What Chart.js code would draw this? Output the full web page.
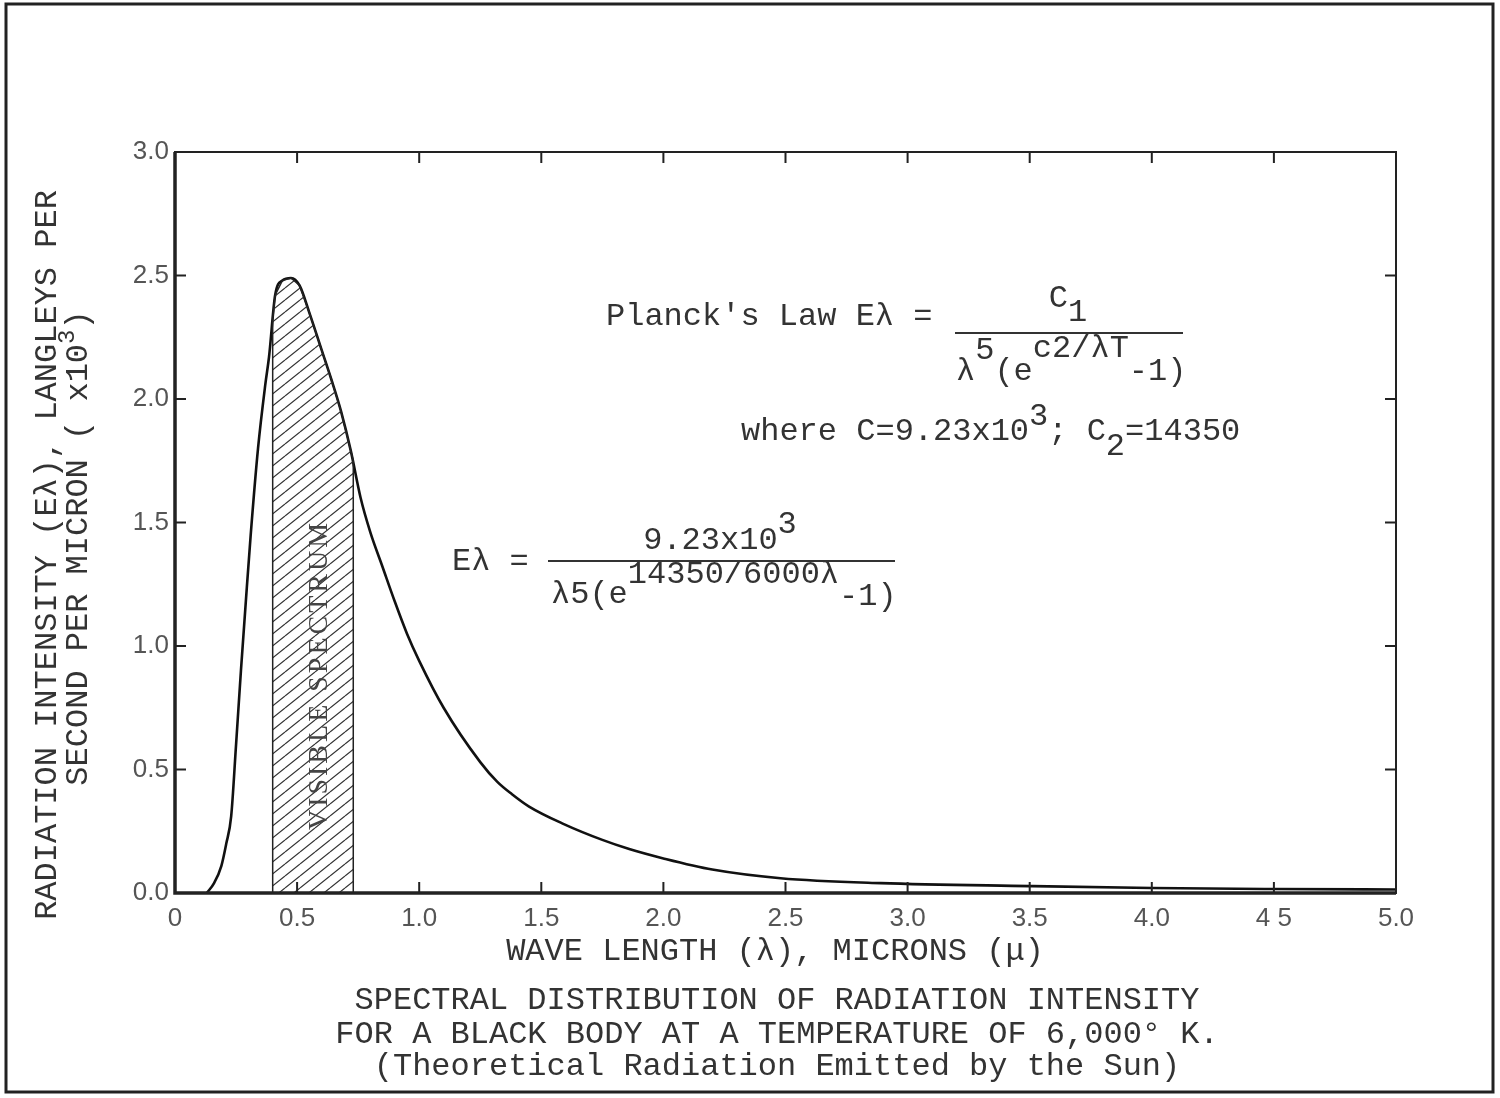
<!DOCTYPE html>
<html>
<head>
<meta charset="utf-8">
<script src="https://cdn.jsdelivr.net/npm/chart.js@4/dist/chart.umd.min.js"></script>
<style>
  html, body { margin: 0; padding: 0; background: #fff; }
  #wrap { width: 1500px; height: 1098px; }
</style>
</head>
<body>
<div id="wrap"><canvas id="spectrumChart" width="1500" height="1098"></canvas></div>
<script>
// Curve (wavelength in microns, intensity x10^3)
const wavelength = [0.13, 0.16, 0.19, 0.21, 0.23, 0.25, 0.27, 0.29, 0.31, 0.34, 0.37, 0.385, 0.41, 0.44, 0.475, 0.51, 0.55, 0.60, 0.64, 0.68, 0.72, 0.76, 0.80, 0.85, 0.90, 0.95, 1.0, 1.1, 1.25, 1.32, 1.38, 1.45, 1.59, 1.75, 1.86, 2.0, 2.2, 2.48, 2.89, 3.5, 4.0, 4.5, 5.0];
const intensity  = [0, 0.04, 0.11, 0.2, 0.31, 0.60, 0.90, 1.18, 1.45, 1.80, 2.06, 2.17, 2.42, 2.48, 2.49, 2.46, 2.35, 2.20, 2.08, 1.95, 1.79, 1.60, 1.46, 1.32, 1.18, 1.05, 0.94, 0.75, 0.53, 0.45, 0.40, 0.35, 0.28, 0.215, 0.178, 0.14, 0.095, 0.06, 0.04, 0.028, 0.02, 0.016, 0.014];

// Hatched visible spectrum band (0.40 - 0.73 microns)
const visibleX = [0.40, 0.40, 0.41, 0.44, 0.475, 0.51, 0.55, 0.60, 0.64, 0.68, 0.72, 0.73, 0.73];
const visibleY = [0, 2.32, 2.42, 2.48, 2.49, 2.46, 2.35, 2.20, 2.08, 1.95, 1.79, 1.75, 0];

const xTickLabels = ['0', '0.5', '1.0', '1.5', '2.0', '2.5', '3.0', '3.5', '4.0', '4 5', '5.0'];
const yTickLabels = ['0.0', '0.5', '1.0', '1.5', '2.0', '2.5', '3.0'];

const MONO = '32px "Liberation Mono", "DejaVu Sans Mono", monospace';
const MONO_SMALL = '24px "Liberation Mono", "DejaVu Sans Mono", monospace';
const INK = '#333';

function makeHatch(ctx) {
  const c = document.createElement('canvas');
  c.width = 15; c.height = 12;
  const g = c.getContext('2d');
  g.strokeStyle = '#333';
  g.lineWidth = 1.2;
  g.beginPath();
  for (let k = -1; k <= 1; k++) {
    g.moveTo(0, 12 + 12 * k);
    g.lineTo(15, 0 + 12 * k);
  }
  g.stroke();
  return ctx.createPattern(c, 'repeat');
}

// draws a run of text pieces, each with its own vertical shift and optional font
function drawPieces(ctx, pieces, x, y, align) {
  const base = ctx.font;
  let total = 0;
  pieces.forEach(p => {
    ctx.font = p[2] || base;
    total += ctx.measureText(p[0]).width;
  });
  let cx = align === 'center' ? x - total / 2 : x;
  ctx.textAlign = 'left';
  pieces.forEach(p => {
    ctx.font = p[2] || base;
    ctx.fillText(p[0], cx, y + (p[1] || 0));
    cx += ctx.measureText(p[0]).width;
  });
  ctx.font = base;
}

const decorations = {
  id: 'decorations',
  beforeDraw(chart) {
    const ctx = chart.ctx;
    ctx.save();
    ctx.fillStyle = '#fff';
    ctx.fillRect(0, 0, chart.width, chart.height);
    ctx.strokeStyle = '#222';
    ctx.lineWidth = 3;
    ctx.strokeRect(6, 4, 1487, 1088);
    ctx.restore();
  },
  afterDraw(chart) {
    const ctx = chart.ctx;
    const a = chart.chartArea;
    const xs = chart.scales.x, ys = chart.scales.y;
    ctx.save();

    // inward tick marks on all four sides
    ctx.strokeStyle = '#222';
    ctx.lineWidth = 2;
    ctx.beginPath();
    xs.ticks.forEach(t => {
      const px = xs.getPixelForValue(t.value);
      ctx.moveTo(px, a.bottom); ctx.lineTo(px, a.bottom - 11);
      ctx.moveTo(px, a.top); ctx.lineTo(px, a.top + 11);
    });
    ys.ticks.forEach(t => {
      const py = ys.getPixelForValue(t.value);
      ctx.moveTo(a.left, py); ctx.lineTo(a.left + 11, py);
      ctx.moveTo(a.right, py); ctx.lineTo(a.right - 11, py);
    });
    ctx.stroke();

    // plot frame: heavier on the left and bottom
    ctx.lineWidth = 2;
    ctx.strokeRect(a.left, a.top, a.right - a.left, a.bottom - a.top);
    ctx.lineWidth = 3.5;
    ctx.beginPath();
    ctx.moveTo(a.left, a.top); ctx.lineTo(a.left, a.bottom); ctx.lineTo(a.right, a.bottom);
    ctx.stroke();

    ctx.fillStyle = INK;
    ctx.textBaseline = 'middle';

    // visible spectrum label
    ctx.save();
    ctx.font = '28px "Liberation Serif", "DejaVu Serif", serif';
    ctx.letterSpacing = '3px';
    ctx.translate(320, 675);
    ctx.rotate(-Math.PI / 2);
    ctx.textAlign = 'center';
    ctx.fillStyle = '#444';
    ctx.fillText('VISIBLE SPECTRUM', 0, 0);
    ctx.restore();

    ctx.font = MONO;

    // y axis title (two rotated lines)
    ctx.save();
    ctx.translate(48, 555);
    ctx.rotate(-Math.PI / 2);
    drawPieces(ctx, [['RADIATION INTENSITY (E\u03bb), LANGLEYS PER']], 0, 0, 'center');
    ctx.restore();
    ctx.save();
    ctx.translate(79, 548);
    ctx.rotate(-Math.PI / 2);
    drawPieces(ctx, [['SECOND PER MICRON ( x10'], ['3', -11, MONO_SMALL], [')']], 0, 0, 'center');
    ctx.restore();

    // x axis title
    drawPieces(ctx, [['WAVE LENGTH (\u03bb), MICRONS (\u03bc)']], 775, 952, 'center');

    // caption
    drawPieces(ctx, [['SPECTRAL DISTRIBUTION OF RADIATION INTENSITY']], 777, 1001, 'center');
    drawPieces(ctx, [['FOR A BLACK BODY AT A TEMPERATURE OF 6,000\u00b0 K.']], 777, 1035, 'center');
    drawPieces(ctx, [['(Theoretical Radiation Emitted by the Sun)']], 777, 1067, 'center');

    // Planck's law
    drawPieces(ctx, [["Planck's Law E\u03bb ="]], 606, 317);
    drawPieces(ctx, [['C'], ['1', 14]], 1068, 299, 'center');
    drawPieces(ctx, [['\u03bb'], ['5', -21], ['(e'], ['c2/\u03bbT', -23], ['-1)']], 956, 372);
    drawPieces(ctx, [['where C=9.23x10'], ['3', -15], ['; C'], ['2', 15], ['=14350']], 741, 432);

    // worked formula
    drawPieces(ctx, [['E\u03bb =']], 452, 562);
    drawPieces(ctx, [['9.23x10'], ['3', -16]], 720, 541, 'center');
    drawPieces(ctx, [['\u03bb5(e'], ['14350/6000\u03bb', -20], ['-1)', 2]], 551, 595);

    // fraction bars
    ctx.strokeStyle = '#333';
    ctx.lineWidth = 2;
    ctx.beginPath();
    ctx.moveTo(955, 333); ctx.lineTo(1183, 333);
    ctx.moveTo(548, 561); ctx.lineTo(895, 561);
    ctx.stroke();

    ctx.restore();
  }
};

const canvas = document.getElementById('spectrumChart');
const hatch = makeHatch(canvas.getContext('2d'));

new Chart(canvas, {
  type: 'line',
  data: {
    datasets: [
      {
        label: 'Visible spectrum',
        data: visibleX.map((x, i) => ({ x: x, y: visibleY[i] })),
        borderColor: '#222',
        borderWidth: 1.5,
        backgroundColor: hatch,
        fill: 'origin',
        pointRadius: 0,
        tension: 0
      },
      {
        label: 'E\u03bb',
        data: wavelength.map((x, i) => ({ x: x, y: intensity[i] })),
        borderColor: '#111',
        borderWidth: 2.6,
        fill: false,
        pointRadius: 0,
        cubicInterpolationMode: 'monotone'
      }
    ]
  },
  options: {
    responsive: false,
    animation: false,
    layout: { padding: { left: 105, top: 152, right: 104, bottom: 145 } },
    plugins: { legend: { display: false }, tooltip: { enabled: false } },
    scales: {
      x: {
        type: 'linear',
        min: 0,
        max: 5,
        grid: { display: false, drawTicks: false },
        border: { display: false },
        afterFit: s => { s.height = 60; },
        ticks: {
          stepSize: 0.5,
          padding: 10,
          maxRotation: 0,
          autoSkip: false,
          color: '#555',
          font: { family: '"Liberation Sans", Arial, sans-serif', size: 26 },
          callback: (v, i) => xTickLabels[i]
        }
      },
      y: {
        min: 0,
        max: 3,
        grid: { display: false, drawTicks: false },
        border: { display: false },
        afterFit: s => { s.width = 70; },
        ticks: {
          stepSize: 0.5,
          padding: 6,
          color: '#555',
          font: { family: '"Liberation Sans", Arial, sans-serif', size: 26 },
          callback: (v, i) => yTickLabels[i]
        }
      }
    }
  },
  plugins: [decorations]
});
</script>
</body>
</html>
